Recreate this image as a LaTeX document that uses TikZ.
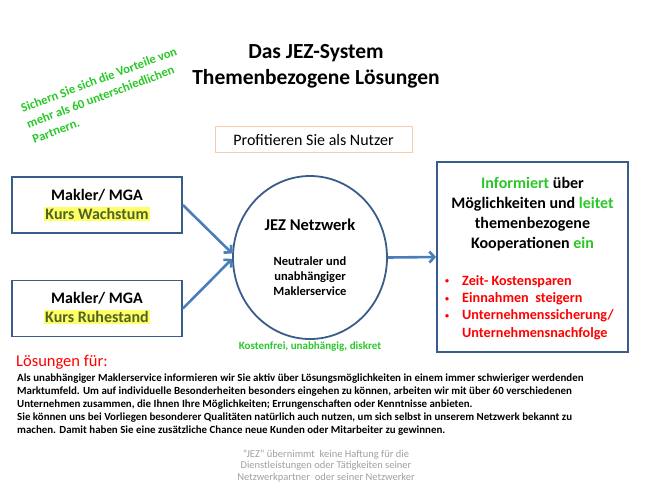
\documentclass[tikz,border=0pt]{standalone}
\usepackage{fontspec}
\setmainfont{Carlito}
\usetikzlibrary{arrows.meta,shapes.geometric}

\definecolor{frameblue}{RGB}{56,93,138}
\definecolor{linkblue}{RGB}{74,126,187}
\definecolor{jezgreen}{RGB}{40,200,40}
\definecolor{jezred}{RGB}{255,0,0}
\definecolor{salmon}{RGB}{248,203,173}
\definecolor{olivetext}{RGB}{79,98,40}
\definecolor{hlyellow}{RGB}{255,255,102}
\definecolor{notegray}{RGB}{160,160,160}

\newcommand{\dotmark}{\makebox[18pt][l]{\hspace*{1pt}\raisebox{1.5pt}{\fontsize{8}{8}\selectfont\textbullet}}}
\newcommand{\hlkurs}[1]{{\setlength{\fboxsep}{1.5pt}\colorbox{hlyellow}{\color{olivetext}#1}}}

\begin{document}
\begin{tikzpicture}[x=1pt,y=-1pt]

    % styles
    \tikzstyle{txt} = [inner sep=0pt,text=black]
    \tikzstyle{frame} = [draw=frameblue,line width=1.8pt,inner sep=0pt]
    \tikzstyle{maklerbox} = [frame,minimum width=170pt,minimum height=56pt,
        align=center,font=\fontsize{16}{19}\selectfont\bfseries]
    \tikzstyle{link} = [draw=linkblue,line width=2.6pt,
        -{Straight Barb[length=5pt,width=11pt]}]

    \useasboundingbox (0,0) rectangle (650,488);

    % title
    \node[txt,align=center,font=\fontsize{21.5}{26}\selectfont\bfseries]
        (title) at (316,66) {Das JEZ-System\\Themenbezogene Lösungen};

    % green slogan
    \node[txt,anchor=west,rotate=20.5,align=left,text=jezgreen,
        font=\fontsize{12.6}{16.5}\selectfont\bfseries] (slogan) at (27,124)
        {Sichern Sie sich die Vorteile von\\mehr als 60 unterschiedlichen\\Partnern.};

    % user box
    \node[draw=salmon,line width=0.8pt,minimum width=197pt,minimum height=26pt,
        inner sep=0pt,font=\fontsize{16}{19}\selectfont] (user) at (313.5,139.5)
        {Profitieren Sie als Nutzer};

    % makler boxes
    \node[maklerbox] (growth) at (97,205) {Makler/ MGA\\\hlkurs{Kurs Wachstum}};
    \node[maklerbox] (retire) at (97,308.5) {Makler/ MGA\\\hlkurs{Kurs Ruhestand}};

    % network
    \node[ellipse,draw=frameblue,line width=1.8pt,minimum width=154pt,
        minimum height=163pt,inner sep=0pt] (net) at (310,257.5) {};
    \node[txt,font=\fontsize{16.5}{19}\selectfont\bfseries] (netname) at (310,224.5)
        {JEZ Netzwerk};
    \node[txt,align=center,font=\fontsize{12.5}{15}\selectfont\bfseries]
        (service) at (310,276.5) {Neutraler und\\unabhängiger\\Maklerservice};
    \node[txt,text=jezgreen,font=\fontsize{11}{13}\selectfont\bfseries]
        (free) at (310,346.5) {Kostenfrei, unabhängig, diskret};

    % info box
    \node[frame,minimum width=191pt,minimum height=190pt] (info) at (532.5,257) {};
    \node[txt,align=center,font=\fontsize{16}{20}\selectfont\bfseries] (infotext)
        at (532.5,214) {\textcolor{jezgreen}{Informiert} über\\
        Möglichkeiten und \textcolor{jezgreen}{leitet}\\themenbezogene\\
        Kooperationen \textcolor{jezgreen}{ein}};
    \node[txt,anchor=west,align=left,text=jezred,
        font=\fontsize{14.2}{17.3}\selectfont\bfseries] (gains) at (444,307.5)
        {\dotmark Zeit- Kostensparen\\\dotmark Einnahmen\ \ steigern\\
        \dotmark Unternehmenssicherung/\\\hspace*{18pt}Unternehmensnachfolge};

    % arrows
    \path[link] (growth.east) -- (net.177);
    \path[link] (retire.east) -- (net.181);
    \path[link] (net.east) -- (info.west);

    % solutions
    \node[txt,anchor=west,text=jezred,font=\fontsize{16.5}{19}\selectfont]
        (solhead) at (16,362) {Lösungen für:};
    \node[txt,anchor=north west,align=left,
        font=\fontsize{10.9}{12.8}\selectfont\bfseries] (soltext) at (17,374)
        {Als unabhängiger Maklerservice informieren wir Sie aktiv über Lösungsmöglichkeiten in einem immer schwieriger werdenden\\
        Marktumfeld. Um auf individuelle Besonderheiten besonders eingehen zu können, arbeiten wir mit über 60 verschiedenen\\
        Unternehmen zusammen, die Ihnen Ihre Möglichkeiten; Errungenschaften oder Kenntnisse anbieten.\\
        Sie können uns bei Vorliegen besonderer Qualitäten natürlich auch nutzen, um sich selbst in unserem Netzwerk bekannt zu\\
        machen. Damit haben Sie eine zusätzliche Chance neue Kunden oder Mitarbeiter zu gewinnen.};

    % disclaimer
    \node[txt,align=center,text=notegray,font=\fontsize{10.5}{11.8}\selectfont]
        (note) at (326,466) {"JEZ" übernimmt\ \ keine Haftung für die\\
        Dienstleistungen oder Tätigkeiten seiner\\Netzwerkpartner\ \ oder seiner Netzwerker};
\end{tikzpicture}
\end{document}
